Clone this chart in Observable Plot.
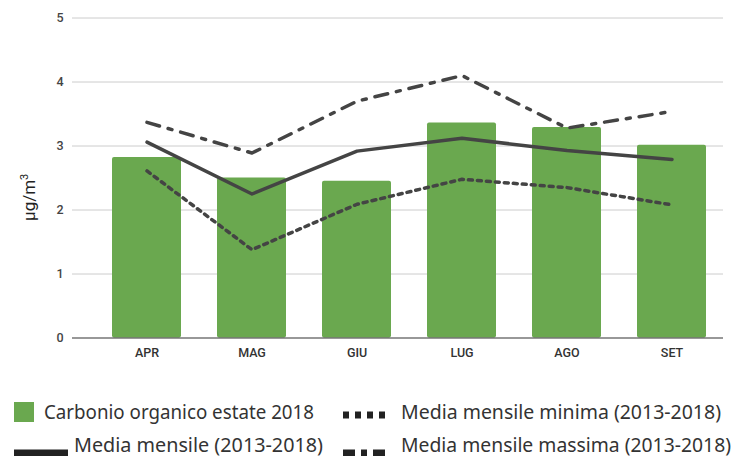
<!DOCTYPE html>
<html>
<head>
<meta charset="utf-8">
<script src="https://cdn.jsdelivr.net/npm/d3@7"></script>
<script src="https://cdn.jsdelivr.net/npm/@observablehq/plot@0.6"></script>
<style>
  html, body { margin: 0; padding: 0; background: #fff; }
  #wrap { position: relative; width: 733px; height: 456px; overflow: hidden; }
  .leg { position: absolute; font-family: "Noto Sans", sans-serif; font-size: 20px; color: #333; white-space: nowrap; line-height: 1; transform-origin: 0 50%; }
  .sym { position: absolute; }
  #ylab { position: absolute; font-family: Roboto, sans-serif; font-size: 17px; color: #222; white-space: nowrap; line-height: 1; transform-origin: 0 0; }
</style>
</head>
<body>
<div id="wrap"></div>
<script>
const months = ["APR", "MAG", "GIU", "LUG", "AGO", "SET"];
const carbonio2018 = [2.82, 2.50, 2.45, 3.36, 3.29, 3.01];
const mediaMensile = [3.06, 2.25, 2.92, 3.12, 2.93, 2.79];
const mediaMinima = [2.61, 1.38, 2.09, 2.48, 2.35, 2.08];
const mediaMassima = [3.37, 2.89, 3.70, 4.10, 3.28, 3.54];
const yTicks = [0, 1, 2, 3, 4, 5];
const yLabel = "µg/m³";
const legendLabels = [
  "Carbonio organico estate 2018",
  "Media mensile minima (2013-2018)",
  "Media mensile (2013-2018)",
  "Media mensile massima (2013-2018)"
];

const rows = months.map((m, i) => ({
  month: m, c: carbonio2018[i], avg: mediaMensile[i], min: mediaMinima[i], max: mediaMassima[i]
}));

const lineColor = "#444";
const green = "#6aa84f";

const chart = Plot.plot({
  width: 733,
  height: 385,
  marginTop: 17.5,
  marginBottom: 47.5,
  marginLeft: 72,
  marginRight: 10,
  style: { fontFamily: "Roboto, 'Liberation Sans', sans-serif", fontSize: "12px", color: "#444", background: "transparent" },
  x: { domain: months, range: [91.5, 725.7], paddingInner: 0.347, paddingOuter: 0.173, label: null },
  y: { domain: [0, 5], ticks: yTicks, label: null },
  marks: [
    Plot.ruleY(yTicks.filter(t => t > 0), { stroke: "#cccccc", strokeWidth: 1 }),
    Plot.barY(rows, { x: "month", y: "c", fill: green, rx: 2 }),
    Plot.ruleY([0], { stroke: "#333", strokeWidth: 1.2 }),
    Plot.lineY(rows, { x: "month", y: "max", stroke: lineColor, strokeWidth: 3.5, strokeDasharray: "13,9,4,9" }),
    Plot.lineY(rows, { x: "month", y: "min", stroke: lineColor, strokeWidth: 3.5, strokeDasharray: "4,5" }),
    Plot.lineY(rows, { x: "month", y: "avg", stroke: lineColor, strokeWidth: 3.5 }),
    Plot.axisY(yTicks, { tickSize: 0, tickPadding: 9, tickFormat: d3.format("d"), fontWeight: 500, fontSize: 12.5, fill: "#444", label: null }),
    Plot.axisX({ tickSize: 0, tickPadding: 10, fontWeight: 500, fontSize: 12.5, fill: "#333", label: null })
  ]
});

const wrap = document.getElementById("wrap");
wrap.appendChild(chart);

// rotated y-axis label
const yl = document.createElement("div");
yl.id = "ylab";
yl.innerHTML = "µg/m<sup style='font-size:11px;vertical-align:7px'>3</sup>";
wrap.appendChild(yl);
const ylw = yl.offsetWidth, ylh = yl.offsetHeight;
yl.style.left = (28 - ylh / 2) + "px";
yl.style.top = (197 + ylw / 2) + "px";
yl.style.transform = "rotate(-90deg)";

function addText(txt, x, yc, targetW) {
  const d = document.createElement("div");
  d.className = "leg";
  d.textContent = txt;
  d.style.left = x + "px";
  d.style.top = (yc - 10.5) + "px";
  wrap.appendChild(d);
  const w = d.getBoundingClientRect().width;
  d.style.transform = `scaleX(${targetW / w})`;
}
function addSym(html, x, y, w, h) {
  const d = document.createElement("div");
  d.className = "sym";
  d.style.left = x + "px"; d.style.top = y + "px";
  d.style.width = w + "px"; d.style.height = h + "px";
  d.innerHTML = html;
  wrap.appendChild(d);
}
// legend symbols
addSym(`<svg width="20" height="20"><rect width="20" height="20" fill="${green}"/></svg>`, 14, 402, 20, 20);
addSym(`<svg width="46" height="8"><line x1="0" x2="46" y1="4" y2="4" stroke="#222" stroke-width="7" stroke-dasharray="6,6"/></svg>`, 343, 405, 46, 8);
addSym(`<svg width="54" height="8"><line x1="0" x2="54" y1="4" y2="4" stroke="#222" stroke-width="7"/></svg>`, 14, 443, 54, 8);
addSym(`<svg width="46" height="8"><line x1="0" x2="46" y1="4" y2="4" stroke="#222" stroke-width="7" stroke-dasharray="12,6,6,6,12"/></svg>`, 343, 443, 46, 8);
addText(legendLabels[0], 44, 412, 270);
addText(legendLabels[1], 401, 412, 320);
addText(legendLabels[2], 74, 445, 249);
addText(legendLabels[3], 401, 445, 330);
</script>
</body>
</html>
